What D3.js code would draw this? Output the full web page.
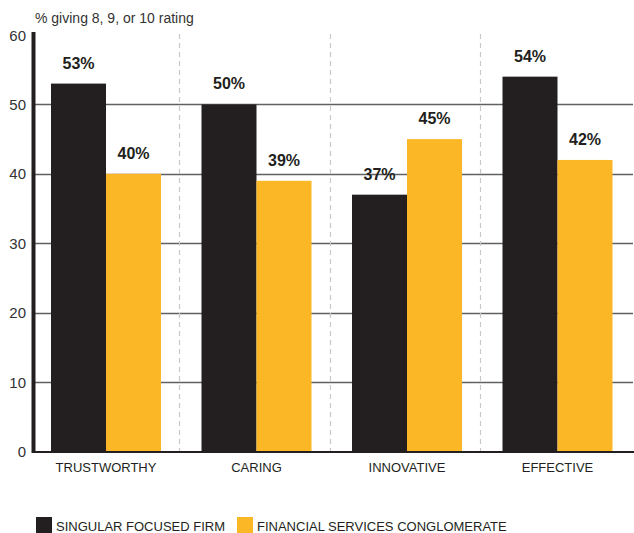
<!DOCTYPE html>
<html>
<head>
<meta charset="utf-8">
<script src="https://cdnjs.cloudflare.com/ajax/libs/d3/7.8.5/d3.min.js"></script>
<style>
  html, body { margin: 0; padding: 0; background: #fff; }
  svg { display: block; font-family: "Liberation Sans", Arial, sans-serif; }
</style>
</head>
<body>
<svg id="chart" width="634" height="533"></svg>
<script>
const categories = ["TRUSTWORTHY", "CARING", "INNOVATIVE", "EFFECTIVE"];
const seriesNames = ["SINGULAR FOCUSED FIRM", "FINANCIAL SERVICES CONGLOMERATE"];
const singularValues = [53, 50, 37, 54];
const conglomerateValues = [40, 39, 45, 42];
const yTicks = [0, 10, 20, 30, 40, 50, 60];
const yTitle = "% giving 8, 9, or 10 rating";
const colors = ["#231f20", "#fbb726"];

const svg = d3.select("#chart");
const series = [singularValues, conglomerateValues];

const y = d3.scaleLinear().domain([0, 60]).range([451.5, 35]);
const x = d3.scaleBand().domain(categories).range([30.75, 632.75]).padding(0);
const barW = 55;
const xSub = d3.scaleBand().domain([0, 1]).range([0, barW * 2]);

// gridlines (no line at 0 or 60)
svg.append("g").selectAll("line")
  .data(yTicks.filter(t => t > 0 && t < 60))
  .join("line")
  .attr("x1", 35).attr("x2", 633)
  .attr("y1", d => Math.round(y(d)) + 0.5).attr("y2", d => Math.round(y(d)) + 0.5)
  .attr("stroke", "#5f6062").attr("stroke-width", 1.4);

// dashed separators
svg.append("g").selectAll("line")
  .data(categories.slice(1))
  .join("line")
  .attr("x1", d => Math.round(x(d)) - 1.5).attr("x2", d => Math.round(x(d)) - 1.5)
  .attr("y1", 34).attr("y2", 451)
  .attr("stroke", "#c8c8c8").attr("stroke-width", 1.2)
  .attr("stroke-dasharray", "5,4");

// bars
const groups = svg.append("g").selectAll("g")
  .data(categories)
  .join("g")
  .attr("transform", d => `translate(${x(d) + x.bandwidth() / 2 - barW},0)`);

groups.selectAll("rect")
  .data((d, i) => series.map((s, k) => ({ k, v: s[i] })))
  .join("rect")
  .attr("x", d => xSub(d.k))
  .attr("width", barW)
  .attr("y", d => y(d.v))
  .attr("height", d => y(0) - y(d.v))
  .attr("fill", d => colors[d.k]);

groups.selectAll("text.val")
  .data((d, i) => series.map((s, k) => ({ k, v: s[i] })))
  .join("text")
  .attr("class", "val")
  .attr("x", d => xSub(d.k) + barW / 2)
  .attr("y", d => y(d.v) - 15)
  .attr("text-anchor", "middle")
  .attr("font-size", 16)
  .attr("font-weight", "bold")
  .attr("fill", "#231f20")
  .text(d => d.v + "%");

// baseline
svg.append("line")
  .attr("x1", 32).attr("x2", 634)
  .attr("y1", 452).attr("y2", 452)
  .attr("stroke", "#231f20").attr("stroke-width", 2);

// y axis line (thick)
svg.append("rect")
  .attr("x", 31.5).attr("y", 32).attr("width", 4).attr("height", 421)
  .attr("fill", "#231f20");

// y tick labels
svg.append("g").selectAll("text")
  .data(yTicks)
  .join("text")
  .attr("x", 26)
  .attr("y", d => y(d) + 5.5)
  .attr("text-anchor", "end")
  .attr("font-size", 15)
  .attr("fill", "#333")
  .text(d => d);

// y title
svg.append("text")
  .attr("x", 35).attr("y", 23)
  .attr("font-size", 14)
  .attr("fill", "#333")
  .text(yTitle);

// category labels
svg.append("g").selectAll("text")
  .data(categories)
  .join("text")
  .attr("x", d => x(d) + x.bandwidth() / 2)
  .attr("y", 472)
  .attr("text-anchor", "middle")
  .attr("font-size", 13)
  .attr("fill", "#231f20")
  .text(d => d);

// legend
const legendX = [36, 237];
const leg = svg.append("g").selectAll("g")
  .data(seriesNames)
  .join("g")
  .attr("transform", (d, i) => `translate(${legendX[i]},517)`);
leg.append("rect").attr("width", 16).attr("height", 16).attr("fill", (d, i) => colors[i]);
leg.append("text").attr("x", 20).attr("y", 14)
  .attr("font-size", 13).attr("fill", "#231f20").text(d => d);
</script>
</body>
</html>
